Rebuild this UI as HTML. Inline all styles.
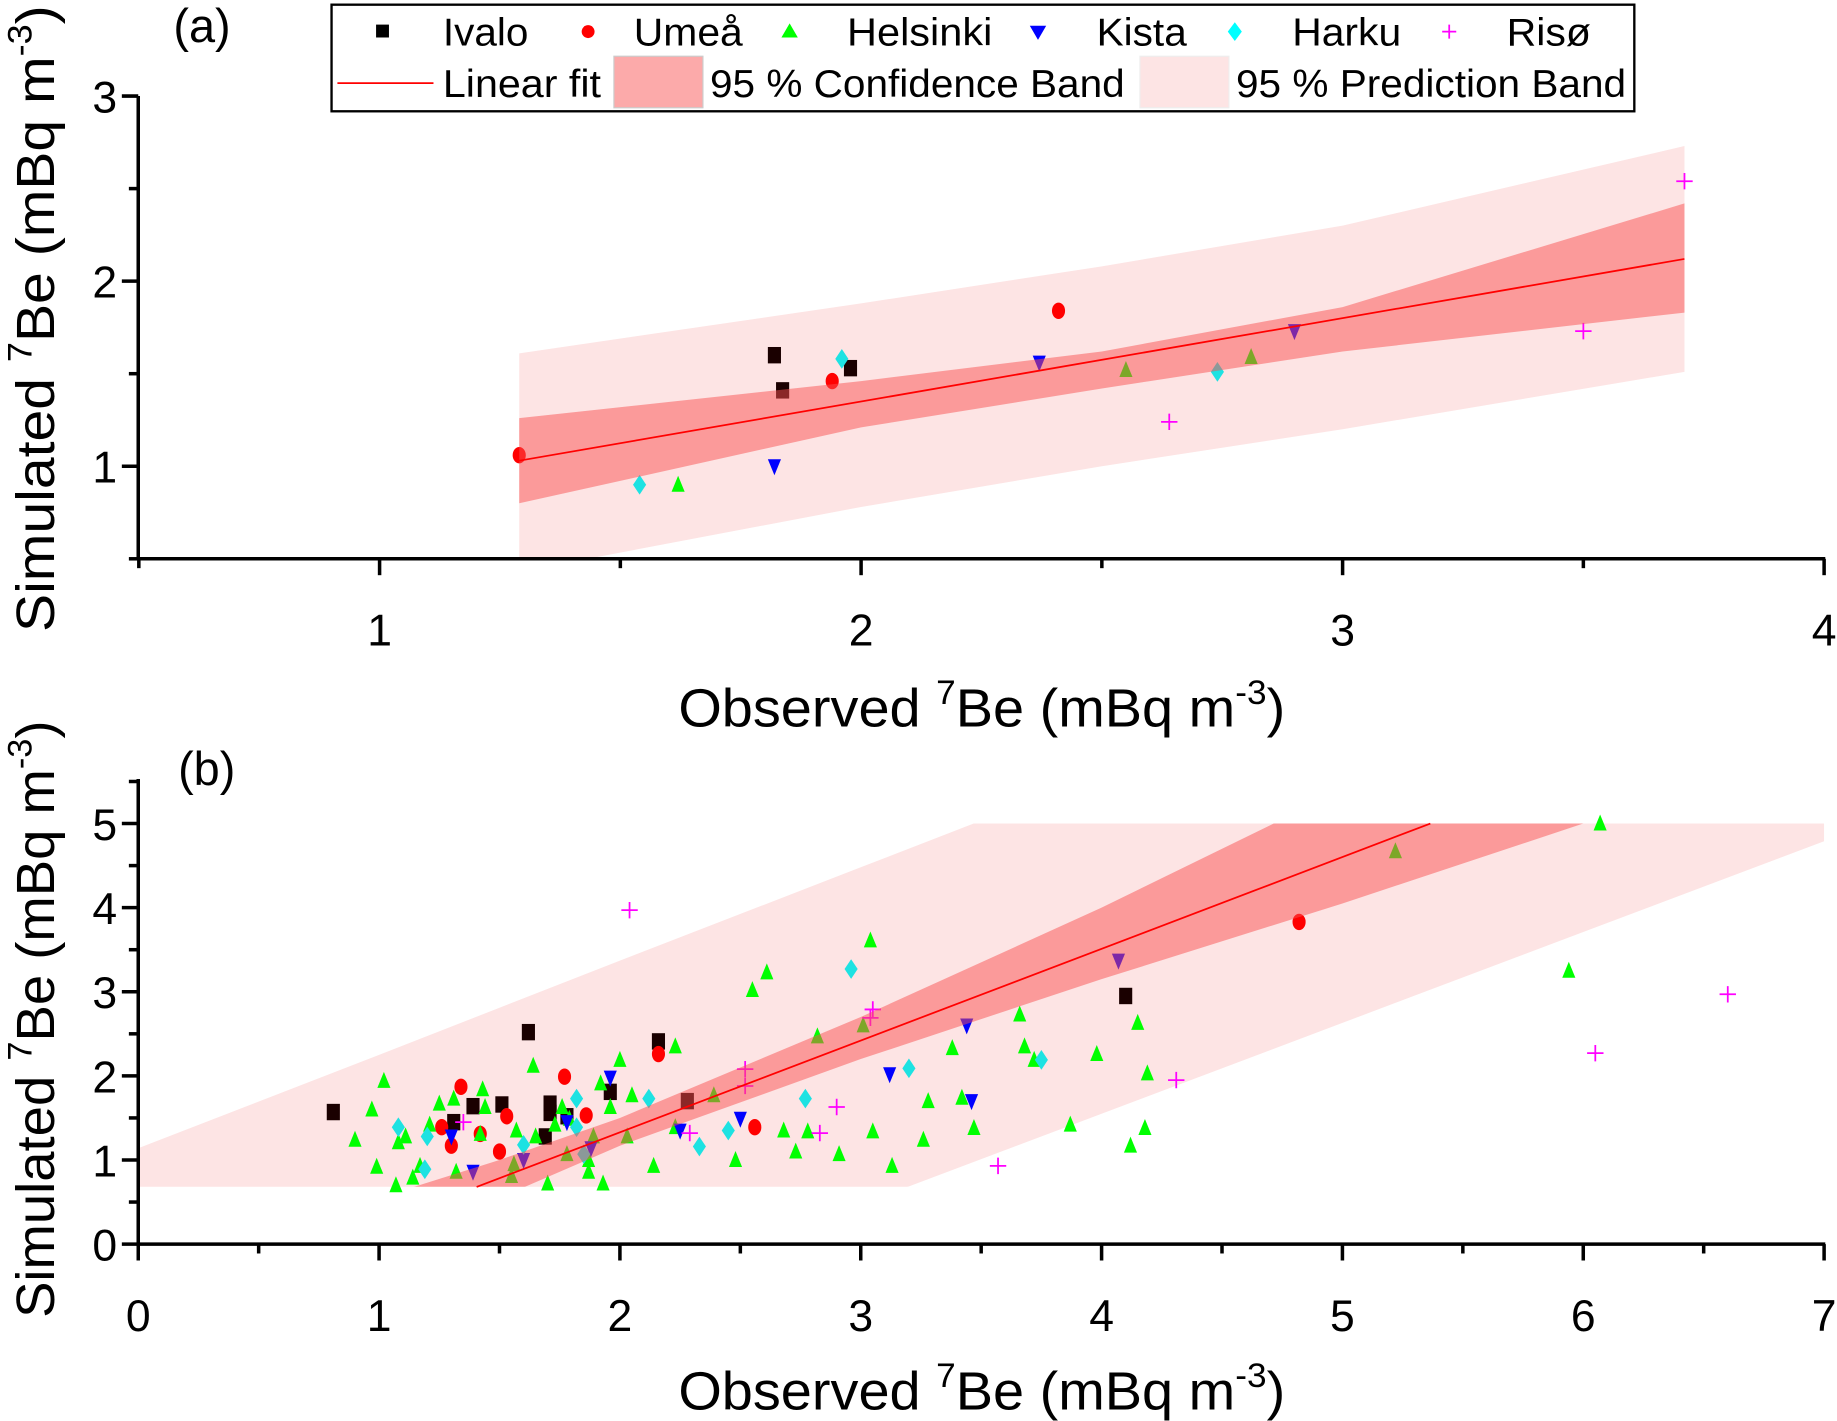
<!DOCTYPE html>
<html><head><meta charset="utf-8"><style>
html,body{margin:0;padding:0;background:#fff;}
svg{display:block;}
text{font-family:"Liberation Sans",Arial,sans-serif;fill:#000;}
</style></head><body>
<svg id="fig" xmlns="http://www.w3.org/2000/svg" width="1837" height="1421" viewBox="0 0 1568 1213" preserveAspectRatio="none">
<defs>
<clipPath id="clipA"><rect x="118" y="82" width="1439" height="395"/></clipPath>
<clipPath id="clipB"><rect x="118" y="703" width="1439" height="310"/></clipPath>
</defs>
<g id="panelA"></g>
<g id="panelB"></g>
<g id="legend">
<rect x="283" y="4" width="1112" height="91" fill="#fff" stroke="#000" stroke-width="2"/>
<g><rect x="321" y="21" width="11" height="11" fill="#000"/><text x="378" y="39" font-size="33" textLength="73" lengthAdjust="spacingAndGlyphs">Ivalo</text></g>
<g><circle cx="502" cy="27" r="5.5" fill="#f00"/><text x="541" y="39" font-size="33" textLength="93" lengthAdjust="spacingAndGlyphs">Umeå</text></g>
<g><path d="M674,20 L681,32 L667,32 Z" fill="#0f0"/><text x="723" y="39" font-size="33" textLength="124" lengthAdjust="spacingAndGlyphs">Helsinki</text></g>
<g><path d="M879,22 L893,22 L886,34 Z" fill="#00f"/><text x="936" y="39" font-size="33" textLength="77" lengthAdjust="spacingAndGlyphs">Kista</text></g>
<g><path d="M1054,19 L1060,27 L1054,35 L1048,27 Z" fill="#0ff"/><text x="1103" y="39" font-size="33" textLength="93" lengthAdjust="spacingAndGlyphs">Harku</text></g>
<g><path d="M1231,27 H1243 M1237,21 V33" stroke="#f0f" stroke-width="1.5"/><text x="1286" y="39" font-size="33" textLength="72" lengthAdjust="spacingAndGlyphs">Risø</text></g>
<g><line x1="288" y1="71" x2="370" y2="71" stroke="#f00" stroke-width="1.5"/><text x="378" y="83" font-size="33" textLength="135" lengthAdjust="spacingAndGlyphs">Linear fit</text></g>
<g><rect x="524" y="48" width="76" height="44" fill="#fcaaaa" stroke="#ccc"/><text x="606" y="83" font-size="33" textLength="354" lengthAdjust="spacingAndGlyphs">95 % Confidence Band</text></g>
<g><rect x="973" y="48" width="76" height="44" fill="#fde4e4" stroke="#eee"/><text x="1055" y="83" font-size="33" textLength="333" lengthAdjust="spacingAndGlyphs">95 % Prediction Band</text></g>
</g>
</svg>
<script>
// ---------- Panel (a) data ----------
const aIvaloX=[1.82,1.837,1.978], aIvaloY=[1.60,1.41,1.53];
const aUmeaX=[1.29,1.94,2.41], aUmeaY=[1.06,1.46,1.84];
const aHelsX=[1.62,2.55,2.81], aHelsY=[0.90,1.52,1.59];
const aKistaX=[1.82,2.37,2.90], aKistaY=[1.00,1.56,1.73];
const aHarkuX=[1.54,1.96,2.74], aHarkuY=[0.90,1.58,1.51];
const aRisoX=[2.64,3.50,3.71], aRisoY=[1.24,1.73,2.54];
const aBandX=[1.29,2.0,2.5,3.0,3.71];
const aConfUp=[1.26,1.46,1.62,1.86,2.42];
const aConfLo=[0.80,1.21,1.42,1.62,1.83];
const aPredUp=[1.61,1.88,2.08,2.30,2.73];
const aPredLo=[0.43,0.78,1.00,1.20,1.51];
const aFitX=[1.29,3.71], aFitY=[1.03,2.12];
const aXTicks=[1,2,3,4], aYTicks=[1,2,3];
// ---------- Panel (b) data ----------
const bIvaloX=[0.81,1.31,1.39,1.51,1.62,1.71,1.71,1.69,1.78,1.96,2.16,2.28,4.10];
const bIvaloY=[1.57,1.45,1.64,1.66,2.52,1.67,1.56,1.28,1.52,1.81,2.41,1.70,2.95];
const bUmeaX=[1.34,1.26,1.30,1.42,1.50,1.53,1.77,1.86,2.16,2.56,4.82];
const bUmeaY=[1.87,1.39,1.17,1.31,1.10,1.52,1.99,1.53,2.26,1.39,3.83];
const bHelsX=[0.90,0.97,0.99,1.02,1.07,1.08,1.11,1.14,1.17,1.21,1.25,1.31,1.32,1.43,1.44,1.42,1.55,1.57,1.64,1.65,1.70,1.73,1.76,1.78,1.87,1.89,1.92,1.93,1.96,2.00,2.03,2.05,2.14,2.23,2.23,2.39,2.48,2.55,2.61,2.68,2.73,2.78,2.82,2.91,3.01,3.04,3.05,3.13,3.26,3.28,3.38,3.42,3.47,3.66,3.68,3.72,3.87,3.98,4.12,4.15,4.18,4.19,5.22,5.94,6.07,1.79,1.56,1.87];
const bHelsY=[1.24,1.60,0.92,1.94,0.70,1.21,1.28,0.79,0.93,1.42,1.67,1.73,0.86,1.84,1.63,1.31,0.81,1.35,2.12,1.28,0.72,1.42,1.63,1.07,0.86,1.28,1.91,0.72,1.63,2.19,1.28,1.77,0.93,2.35,1.39,1.77,1.00,3.02,3.23,1.35,1.10,1.34,2.47,1.07,2.60,3.61,1.34,0.93,1.24,1.70,2.33,1.74,1.38,2.73,2.35,2.19,1.42,2.26,1.17,2.63,1.38,2.03,4.67,3.25,5.00,1.49,0.95,1.00];
const bKistaX=[1.39,1.30,1.60,1.78,1.88,1.96,2.25,2.50,3.12,3.44,3.46,4.07];
const bKistaY=[0.86,1.28,1.00,1.45,1.14,1.98,1.35,1.49,2.02,2.60,1.70,3.37];
const bHarkuX=[1.08,1.19,1.20,1.60,1.82,1.82,1.85,2.12,2.33,2.45,2.77,2.96,3.20,3.75];
const bHarkuY=[1.39,0.89,1.28,1.18,1.73,1.39,1.07,1.73,1.16,1.35,1.73,3.27,2.09,2.19];
const bRisoX=[2.04,1.35,2.29,2.52,2.52,2.83,2.90,3.04,3.05,3.57,4.31,6.05,6.60];
const bRisoY=[3.97,1.45,1.32,2.08,1.88,1.32,1.63,2.69,2.79,0.93,1.95,2.27,2.97];
const bBandX=[0,1,1.5,2,3,4,5,6,7];
const bConfUp=[-0.5,0.55,1.0,1.50,2.70,4.00,5.40,6.8,8.2];
const bConfLo=[-1.5,-0.1,0.55,1.17,2.20,3.15,4.05,5.00,5.95];
const bPredUp=[1.14,2.25,2.81,3.37,4.48,5.59,6.70,7.81,8.92];
const bPredLo=[-2.77,-1.69,-1.15,-0.61,0.47,1.55,2.63,3.71,4.79];
const bFitX=[1.405,5.365], bFitY=[0.68,5.0];
const bXTicks=[0,1,2,3,4,5,6,7], bYTicks=[0,1,2,3,4,5];

const NS='http://www.w3.org/2000/svg';
function mk(tag,attrs,parent){const e=document.createElementNS(NS,tag);for(const k in attrs)e.setAttribute(k,attrs[k]);parent.appendChild(e);return e;}

function panel(g,cfg){
  const X=v=>cfg.x0px+(v-cfg.xmin)*cfg.xs, Y=v=>cfg.y0px-(v-cfg.ymin)*cfg.ys;
  const clip=mk('g',{'clip-path':'url(#'+cfg.clip+')'},g);
  let d='M'+cfg.bandX.map((x,i)=>X(x)+','+Y(cfg.predUp[i])).join(' L')+' L'+cfg.bandX.slice().reverse().map((x,i,arr)=>X(x)+','+Y(cfg.predLo[arr.length-1-i])).join(' L')+'Z';
  const pb=mk('path',{d:d,fill:'#fde4e4'},clip);
  
  
  const series=[
    ['ivalo',cfg.iv,'#1a0000','sq'],['umea',cfg.um,'#f00','ci'],['helsinki',cfg.he,'#0f0','up'],
    ['kista',cfg.ki,'#00f','dn'],['harku',cfg.ha,'#1de2e2','di'],['riso',cfg.ri,'#f0f','pl']];
  const pts=mk('g',{},g);
  series.forEach(s=>{
    const [name,[xs,ys],col,shape]=s;
    xs.forEach((xv,i)=>{
      const cx=X(xv), cy=Y(ys[i]); const r=cfg.r; let e;
      if(shape==='sq') e=mk('rect',{x:cx-r*0.8,y:cy-r,width:r*1.6,height:r*2,fill:col},pts);
      else if(shape==='ci') e=mk('ellipse',{cx:cx,cy:cy,rx:r*0.8,ry:r,fill:col},pts);
      else if(shape==='up') e=mk('path',{d:`M${cx},${cy-r*1.1} L${cx+r*0.8},${cy+r*0.85} L${cx-r*0.8},${cy+r*0.85}Z`,fill:col},pts);
      else if(shape==='dn') e=mk('path',{d:`M${cx-r*0.8},${cy-r*0.85} L${cx+r*0.8},${cy-r*0.85} L${cx},${cy+r*1.1}Z`,fill:col},pts);
      else if(shape==='di') e=mk('path',{d:`M${cx},${cy-r*1.2} L${cx+r*0.8},${cy} L${cx},${cy+r*1.2} L${cx-r*0.8},${cy}Z`,fill:col},pts);
      else e=mk('path',{d:`M${cx-r},${cy} H${cx+r} M${cx},${cy-r} V${cy+r}`,stroke:col,'stroke-width':1.5,fill:'none'},pts);
      
      
    });
  });
  d='M'+cfg.bandX.map((x,i)=>X(x)+','+Y(cfg.confUp[i])).join(' L')+' L'+cfg.bandX.slice().reverse().map((x,i,arr)=>X(x)+','+Y(cfg.confLo[arr.length-1-i])).join(' L')+'Z';
  const cg=mk('g',{'clip-path':'url(#'+cfg.clip+')'},g);
  const cb=mk('path',{d:d,fill:'rgb(250,80,80)','fill-opacity':0.5},cg);
  
  
  const fl=mk('line',{x1:X(cfg.fitX[0]),y1:Y(cfg.fitY[0]),x2:X(cfg.fitX[1]),y2:Y(cfg.fitY[1]),stroke:'#f00','stroke-width':1.5},g);
  
  
  const ax=mk('g',{},g);
  
  
  mk('line',{x1:118,y1:cfg.ytop,x2:118,y2:cfg.y0px+1.5,stroke:'#000','stroke-width':3},ax);
  mk('line',{x1:117,y1:cfg.y0px,x2:1558,y2:cfg.y0px,stroke:'#000','stroke-width':3},ax);
  for(let v=cfg.xmin;v<=cfg.xmax+1e-9;v+=cfg.xminor){
    const major=cfg.xTicks.some(t=>Math.abs(t-v)<1e-6);
    mk('line',{x1:X(v),y1:cfg.y0px,x2:X(v),y2:cfg.y0px+(major?14:8),stroke:'#000','stroke-width':3},ax);
  }
  for(let v=cfg.ymin;v<=cfg.ymax+1e-9;v+=cfg.yminor){
    const major=cfg.yTicks.some(t=>Math.abs(t-v)<1e-6);
    mk('line',{x1:118,y1:Y(v),x2:118-(major?14:8),y2:Y(v),stroke:'#000','stroke-width':3},ax);
  }
  cfg.xTicks.forEach(t=>{const e=mk('text',{x:X(t),y:cfg.y0px+74,'font-size':38,'text-anchor':'middle'},ax);e.textContent=t;
    
    });
  cfg.yTicks.forEach(t=>{const e=mk('text',{x:100,y:Y(t)+14,'font-size':38,'text-anchor':'end'},ax);e.textContent=t;
    
    });
}

panel(document.getElementById('panelA'),{xmin:0.5,xmax:4,ymin:0.5,ymax:3,x0px:118.5,xs:411,y0px:477,ys:158,ytop:82,
  xminor:0.5,yminor:0.5,xTicks:aXTicks,yTicks:aYTicks,clip:'clipA',r:7,
  bandX:aBandX,confUp:aConfUp,confLo:aConfLo,predUp:aPredUp,predLo:aPredLo,fitX:aFitX,fitY:aFitY,
  iv:[aIvaloX,aIvaloY],um:[aUmeaX,aUmeaY],he:[aHelsX,aHelsY],ki:[aKistaX,aKistaY],ha:[aHarkuX,aHarkuY],ri:[aRisoX,aRisoY]});
panel(document.getElementById('panelB'),{xmin:0,xmax:7,ymin:0,ymax:5.5,x0px:118,xs:205.57,y0px:1062,ys:71.8,ytop:665,
  xminor:0.5,yminor:0.5,xTicks:bXTicks,yTicks:bYTicks,clip:'clipB',r:7,
  bandX:bBandX,confUp:bConfUp,confLo:bConfLo,predUp:bPredUp,predLo:bPredLo,fitX:bFitX,fitY:bFitY,
  iv:[bIvaloX,bIvaloY],um:[bUmeaX,bUmeaY],he:[bHelsX,bHelsY],ki:[bKistaX,bKistaY],ha:[bHarkuX,bHarkuY],ri:[bRisoX,bRisoY]});
</script>
<svg style="position:absolute;left:0;top:0" width="1837" height="1421" viewBox="0 0 1568 1213" preserveAspectRatio="none" xmlns="http://www.w3.org/2000/svg">
<text x="148" y="36" font-size="40" font-family="Liberation Sans, sans-serif">(a)</text>
<text x="152" y="670" font-size="40" font-family="Liberation Sans, sans-serif">(b)</text>
<text transform="translate(46,272) rotate(-90)" text-anchor="middle" font-size="46" textLength="535" lengthAdjust="spacingAndGlyphs" font-family="Liberation Sans, sans-serif">Simulated <tspan font-size="29" dy="-19">7</tspan><tspan dy="19">Be (mBq m</tspan><tspan font-size="29" dy="-19">-3</tspan><tspan dy="19">)</tspan></text>
<text x="838" y="620" text-anchor="middle" font-size="46" textLength="518" lengthAdjust="spacingAndGlyphs" font-family="Liberation Sans, sans-serif">Observed <tspan font-size="29" dy="-19">7</tspan><tspan dy="19">Be (mBq m</tspan><tspan font-size="29" dy="-19">-3</tspan><tspan dy="19">)</tspan></text>
<text transform="translate(46,870) rotate(-90)" text-anchor="middle" font-size="46" textLength="510" lengthAdjust="spacingAndGlyphs" font-family="Liberation Sans, sans-serif">Simulated <tspan font-size="29" dy="-19">7</tspan><tspan dy="19">Be (mBq m</tspan><tspan font-size="29" dy="-19">-3</tspan><tspan dy="19">)</tspan></text>
<text x="838" y="1203" text-anchor="middle" font-size="46" textLength="518" lengthAdjust="spacingAndGlyphs" font-family="Liberation Sans, sans-serif">Observed <tspan font-size="29" dy="-19">7</tspan><tspan dy="19">Be (mBq m</tspan><tspan font-size="29" dy="-19">-3</tspan><tspan dy="19">)</tspan></text>
</svg>
</body></html>
